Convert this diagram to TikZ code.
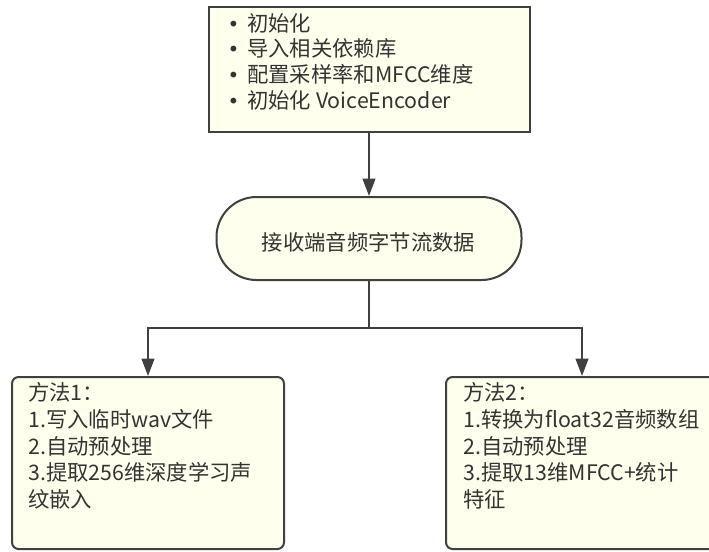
\documentclass[tikz,border=0pt]{standalone}
\usepackage{fontspec}
\setmainfont{Noto Sans CJK SC}
\newfontfamily\bulletfont{DejaVu Sans}
\usetikzlibrary{arrows.meta}
\definecolor{boxfill}{HTML}{FFFFEE}
\definecolor{boxline}{HTML}{404040}
\definecolor{txtcol}{HTML}{333333}
\newcommand{\bul}{\makebox[14.25pt][l]{\hspace{-0.5pt}{\bulletfont\fontsize{15pt}{19.5pt}\selectfont •}}}
\begin{document}
\begin{tikzpicture}[x=0.75pt,y=-0.75pt,
  boxstyle/.style={draw=boxline, fill=boxfill, line width=1.5pt, inner sep=0pt},
  txt/.style={text=txtcol, font=\fontsize{16pt}{19.5pt}\selectfont, inner sep=0pt, anchor=base west},
  conn/.style={draw=boxline, line width=1.5pt},
  arr/.style={conn, -{Triangle[length=13pt,width=9.5pt]}}]
\useasboundingbox (0,0) rectangle (709,551);
\clip (0,0) rectangle (709,551);
% boxes
\node[boxstyle, minimum width=321*0.75pt, minimum height=125*0.75pt] (init) at (369,69.5) {};
\node[boxstyle, rounded corners=30pt, minimum width=305*0.75pt, minimum height=83*0.75pt] (recv) at (369,238.5) {};
\node[boxstyle, rounded corners=5pt, minimum width=272*0.75pt, minimum height=172*0.75pt] (m1) at (148,463) {};
\node[boxstyle, rounded corners=5pt, minimum width=272*0.75pt, minimum height=172*0.75pt] (m2) at (582,463) {};
% top box text
\node[txt] (i1) at (228,31) {\bul 初始化};
\node[txt] (i2) at (228,56.7) {\bul 导入相关依赖库};
\node[txt] (i3) at (228,82.4) {\bul 配置采样率和MFCC维度};
\node[txt] (i4) at (228,108.1) {\bul 初始化 VoiceEncoder};
% stadium text
\node[txt, anchor=center] (rt) at (368.5,242) {接收端音频字节流数据};
% left box text
\node[txt] (a1) at (28,400.5) {方法1：};
\node[txt] (a2) at (28,427.3) {1.写入临时wav文件};
\node[txt] (a3) at (28,454.1) {2.自动预处理};
\node[txt] (a4) at (28,480.9) {3.提取256维深度学习声};
\node[txt] (a5) at (28,507.7) {纹嵌入};
% right box text
\node[txt] (b1) at (463,400.5) {方法2：};
\node[txt] (b2) at (463,427.3) {1.转换为float32音频数组};
\node[txt] (b3) at (463,454.1) {2.自动预处理};
\node[txt] (b4) at (463,480.9) {3.提取13维MFCC+统计};
\node[txt] (b5) at (463,507.7) {特征};
% connectors
\coordinate (split) at (369,328);
\draw[arr] (init.south) -- (recv.north);
\draw[conn] (recv.south) -- (split);
\draw[arr] (split) -| (m1.north);
\draw[arr] (split) -| (m2.north);
\end{tikzpicture}
\end{document}
